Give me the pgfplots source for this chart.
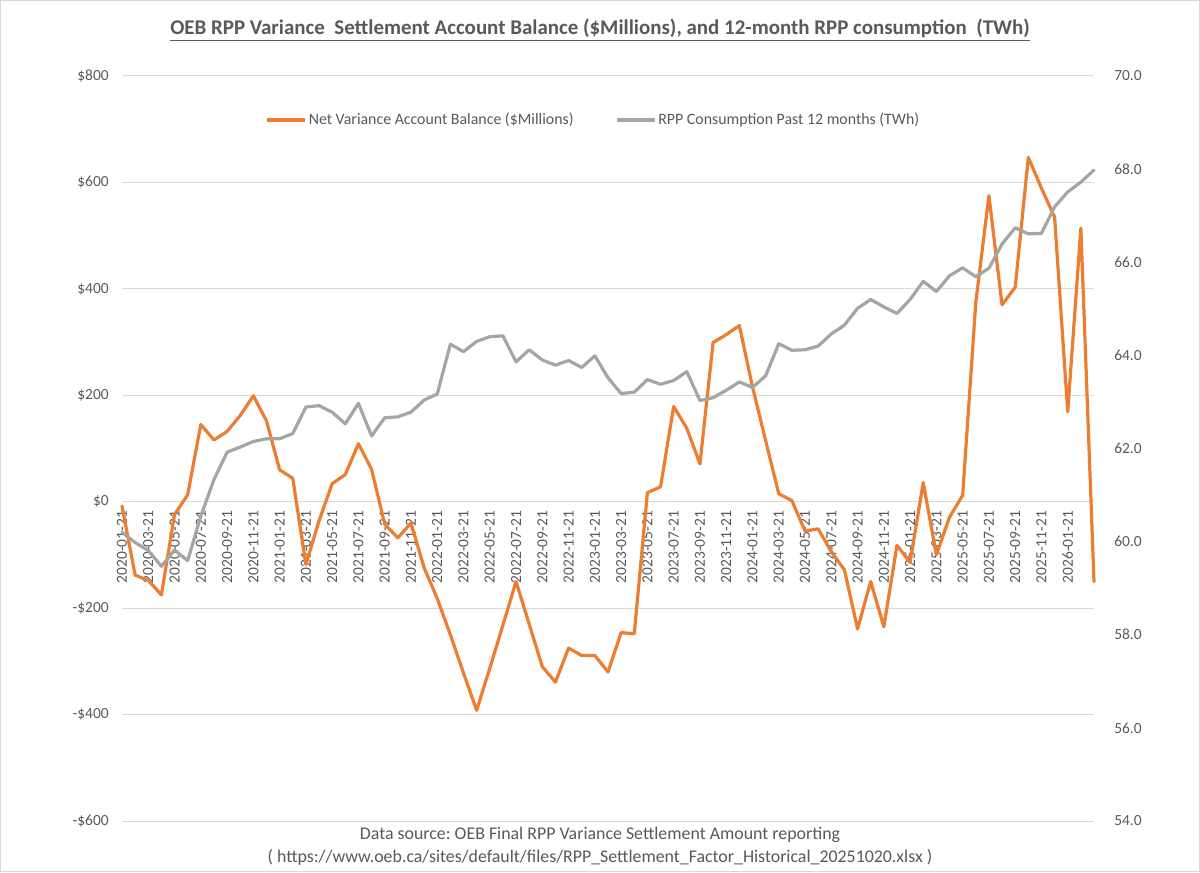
\documentclass[border=0pt]{standalone}
\usepackage{fontspec}
\setmainfont{Carlito}
\usepackage{pgfplots}
\pgfplotsset{compat=1.18}
\definecolor{txt}{HTML}{595959}
\definecolor{gridc}{HTML}{D9D9D9}
\definecolor{rppor}{HTML}{ED7D31}
\definecolor{rppgr}{HTML}{A5A5A5}
\frenchspacing

% 1 px of the reference = 0.75pt
\pgfplotsset{
  base/.style={
    scale only axis,
    width=729pt, height=558.75pt,
    at={(0,0)}, anchor=south west,
    xmin=0, xmax=74,
    major tick length=0pt,
    clip=false,
    every tick label/.append style={font=\fontsize{11.6}{13}\selectfont, text=txt},
  },
}

\begin{document}
\begin{tikzpicture}

% left axis: grid, dates, $ labels, legend, texts
\begin{axis}[base,
  ymin=-600, ymax=800,
  ytick={-600,-400,...,800},
  yticklabels={-\$600,-\$400,-\$200,\$0,\$200,\$400,\$600,\$800},
  ymajorgrids,
  major grid style={draw=gridc, line width=0.75pt},
  axis x line*=middle, axis y line*=left,
  hide obscured x ticks=false, hide obscured y ticks=false,
  x axis line style={draw=gridc, line width=0.75pt, -},
  y axis line style={draw=none},
  xtick={0,2,...,72},
  xticklabels={2020-01-21,2020-03-21,2020-05-21,2020-07-21,2020-09-21,2020-11-21,
    2021-01-21,2021-03-21,2021-05-21,2021-07-21,2021-09-21,2021-11-21,
    2022-01-21,2022-03-21,2022-05-21,2022-07-21,2022-09-21,2022-11-21,
    2023-01-21,2023-03-21,2023-05-21,2023-07-21,2023-09-21,2023-11-21,
    2024-01-21,2024-03-21,2024-05-21,2024-07-21,2024-09-21,2024-11-21,
    2025-01-21,2025-03-21,2025-05-21,2025-07-21,2025-09-21,2025-11-21,
    2026-01-21},
  xticklabel style={rotate=90, anchor=east, inner xsep=6.75pt, inner ysep=0pt},
  yticklabel style={anchor=east, inner sep=0pt, xshift=-9.75pt},
  legend columns=2,
  legend style={at={(rel axis cs:0.4846,0.941)}, anchor=center, draw=none, fill=none,
    font=\fontsize{11.9}{14}\selectfont, text=txt,
    nodes={inner sep=1pt},
    /tikz/every even column/.append style={column sep=30pt}},
  legend image code/.code={\draw[#1, line width=3pt] (0pt,0pt) -- (28.5pt,0pt);},
]
\addlegendimage{rppor}
\addlegendentry{Net Variance Account Balance (\$Millions)}
\addlegendimage{rppgr}
\addlegendentry{RPP Consumption Past 12 months (TWh)}

\node[font=\bfseries\fontsize{15.7}{18}\selectfont, text=txt] at (rel axis cs:0.4918,1.0617)
  {\underline{OEB RPP Variance\ \ Settlement Account Balance (\$Millions), and 12-month RPP consumption\ \ (TWh)}};
\node[font=\fontsize{13.4}{17.25}\selectfont, text=txt, align=center] at (rel axis cs:0.4918,-0.0342)
  {Data source: OEB Final RPP Variance Settlement Amount reporting\\
   ( https://www.oeb.ca/sites/default/files/RPP\_Settlement\_Factor\_Historical\_20251020.xlsx )};
\end{axis}

% net variance account balance, $ millions
\begin{axis}[base, ymin=-600, ymax=800, hide axis]
\addplot[rppor, line width=2.4pt, line join=round, line cap=round] coordinates {
(0,-8)(1,-138)(2,-148)(3,-175)(4,-24)(5,13)(6,145)(7,116)(8,132)(9,162)
(10,199)(11,152)(12,60)(13,44)(14,-118)(15,-36)(16,34)(17,51)(18,109)(19,61)
(20,-42)(21,-68)(22,-40)(23,-124)(24,-182)(25,-250)(26,-322)(27,-392)(28,-313)(29,-232)
(30,-150)(31,-230)(32,-310)(33,-339)(34,-275)(35,-289)(36,-289)(37,-320)(38,-246)(39,-248)
(40,17)(41,28)(42,179)(43,138)(44,71)(45,299)(46,314)(47,331)(48,216)(49,115)
(50,15)(51,2)(52,-55)(53,-51)(54,-94)(55,-128)(56,-239)(57,-150)(58,-235)(59,-82)
(60,-114)(61,36)(62,-100)(63,-29)(64,12)(65,374)(66,575)(67,370)(68,403)(69,647)
(70,589)(71,535)(72,169)(73,514)(74,-150)
};
\end{axis}

% RPP consumption past 12 months, TWh
\begin{axis}[base,
  ymin=54, ymax=70,
  hide x axis,
  axis y line*=right,
  y axis line style={draw=none},
  ytick={54,56,...,70},
  yticklabels={54.0,56.0,58.0,60.0,62.0,64.0,66.0,68.0,70.0},
  yticklabel style={anchor=west, inner sep=0pt, xshift=15pt},
]
\addplot[rppgr, line width=2.4pt, line join=round, line cap=round] coordinates {
(0,60.20)(1,59.98)(2,59.81)(3,59.47)(4,59.82)(5,59.59)(6,60.55)(7,61.33)(8,61.92)(9,62.03)
(10,62.15)(11,62.21)(12,62.21)(13,62.32)(14,62.89)(15,62.92)(16,62.78)(17,62.53)(18,62.97)(19,62.27)
(20,62.66)(21,62.68)(22,62.78)(23,63.04)(24,63.17)(25,64.24)(26,64.08)(27,64.30)(28,64.40)(29,64.42)
(30,63.86)(31,64.12)(32,63.90)(33,63.79)(34,63.89)(35,63.74)(36,63.99)(37,63.52)(38,63.18)(39,63.21)
(40,63.48)(41,63.38)(42,63.46)(43,63.65)(44,63.03)(45,63.09)(46,63.25)(47,63.43)(48,63.31)(49,63.56)
(50,64.25)(51,64.11)(52,64.12)(53,64.20)(54,64.46)(55,64.65)(56,65.01)(57,65.20)(58,65.04)(59,64.90)
(60,65.20)(61,65.59)(62,65.37)(63,65.71)(64,65.88)(65,65.69)(66,65.87)(67,66.39)(68,66.74)(69,66.61)
(70,66.62)(71,67.19)(72,67.51)(73,67.72)(74,67.98)
};
\end{axis}

% chart area frame
\draw[gridc, line width=0.75pt] (-91.125pt,-37.875pt) rectangle (808.125pt,615.375pt);
\pgfresetboundingbox
\path[use as bounding box] (-91.5pt,-38.25pt) rectangle (808.5pt,615.75pt);
\end{tikzpicture}
\end{document}
